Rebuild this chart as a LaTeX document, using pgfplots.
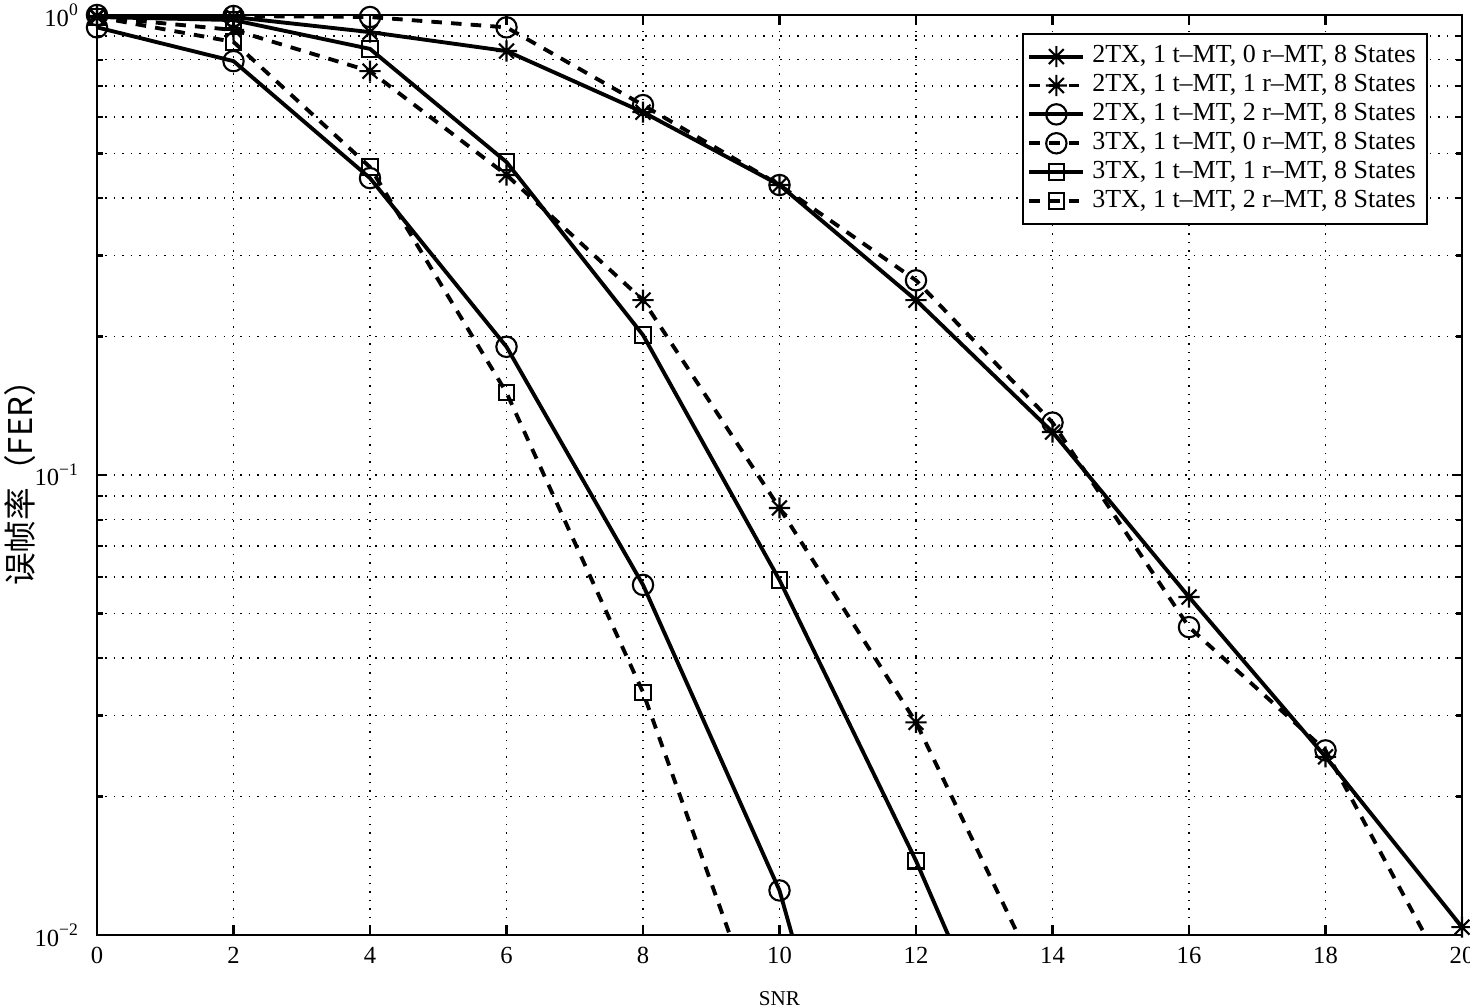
\documentclass[border=0pt]{standalone}
\usepackage{fontspec}
\setmainfont{Liberation Serif}
\newfontfamily\cjk{Noto Sans CJK SC}
\usepackage{pgfplots}
\pgfplotsset{compat=1.18}
\pgfdeclareplotmark{mstar}{%
  \pgfpathmoveto{\pgfqpoint{-\pgfplotmarksize}{0pt}}\pgfpathlineto{\pgfqpoint{\pgfplotmarksize}{0pt}}%
  \pgfpathmoveto{\pgfqpoint{0pt}{-\pgfplotmarksize}}\pgfpathlineto{\pgfqpoint{0pt}{\pgfplotmarksize}}%
  \pgfpathmoveto{\pgfqpoint{-0.707\pgfplotmarksize}{-0.707\pgfplotmarksize}}\pgfpathlineto{\pgfqpoint{0.707\pgfplotmarksize}{0.707\pgfplotmarksize}}%
  \pgfpathmoveto{\pgfqpoint{-0.707\pgfplotmarksize}{0.707\pgfplotmarksize}}\pgfpathlineto{\pgfqpoint{0.707\pgfplotmarksize}{-0.707\pgfplotmarksize}}%
  \pgfusepathqstroke}
\begin{document}
\begin{tikzpicture}
\begin{axis}[
  scale only axis, width=13.65cm, height=9.2cm,
  ymode=log, xmin=0, xmax=20, ymin=0.01, ymax=1,
  xtick={0,2,...,20},
  ytick={0.01,0.1,1},
  yticklabels={10\textsuperscript{−2},10\textsuperscript{−1},10\textsuperscript{0}},
  /pgf/number format/assume math mode=true,
  grid=both,
  major grid style={dotted, black, line width=0.5pt},
  minor grid style={dotted, black, line width=0.5pt},
  tick align=inside,
  major tick length=0.1cm, minor tick length=0.06cm,
  every tick/.style={black, line width=0.6pt},
  axis line style={black, line width=0.8pt},
  tick label style={font=\fontsize{7}{8}\selectfont},
  yticklabel style={xshift=-0.05cm},
  xlabel={SNR},
  xlabel style={font=\fontsize{6}{7}\selectfont, yshift=-0.03cm},
  ylabel={\cjk 误帧率（FER）},
  every axis y label/.style={at={(axis description cs:-0.0564,0.5)}, rotate=90, anchor=center,
    font=\fontsize{9.3}{10}\selectfont},
  every axis plot/.append style={black, line width=1.1pt},
  legend style={at={(1,1)}, anchor=north east, xshift=-0.34cm, yshift=-0.18cm,
    draw=black, line width=0.6pt, fill=white,
    font=\fontsize{7.4}{8}\selectfont, row sep=-2.2pt,
    inner sep=1.2pt},
  legend cell align=left,
  legend image code/.code={
    \draw[mark repeat=2,mark phase=2] plot coordinates {(0cm,0cm) (0.27cm,0cm) (0.54cm,0cm)};},
]
\addplot[solid, mark=mstar, mark size=3pt, mark options={solid, line width=0.6pt}]
  coordinates {(0,0.995) (2,0.99) (4,0.918) (6,0.835) (8,0.615) (10,0.427) (12,0.240) (14,0.124) (16,0.0543) (18,0.0244) (20,0.0104)};
\addlegendentry{2TX, 1 t–MT, 0 r–MT, 8 States}
\addplot[dash pattern=on 3pt off 2.6pt, mark=mstar, mark size=3pt, mark options={solid, line width=0.6pt}]
  coordinates {(0,0.99) (2,0.928) (4,0.755) (6,0.449) (8,0.240) (10,0.0848) (12,0.0290) (14,0.0070)};
\addlegendentry{2TX, 1 t–MT, 1 r–MT, 8 States}
\addplot[solid, mark=o, mark size=2.9pt, mark options={solid, line width=0.6pt}]
  coordinates {(0,0.94) (2,0.794) (4,0.442) (6,0.190) (8,0.0577) (10,0.0125) (12,0.0011)};
\addlegendentry{2TX, 1 t–MT, 2 r–MT, 8 States}
\addplot[dash pattern=on 3pt off 2.6pt, mark=o, mark size=2.9pt, mark options={solid, line width=0.6pt}]
  coordinates {(0,1.0) (2,0.995) (4,0.99) (6,0.94) (8,0.637) (10,0.427) (12,0.265) (14,0.130) (16,0.0467) (18,0.0252) (20,0.0071)};
\addlegendentry{3TX, 1 t–MT, 0 r–MT, 8 States}
\addplot[solid, mark=square, mark size=2.2pt, mark options={solid, line width=0.6pt}]
  coordinates {(0,0.99) (2,0.975) (4,0.844) (6,0.479) (8,0.2015) (10,0.0591) (12,0.0145) (14,0.003)};
\addlegendentry{3TX, 1 t–MT, 1 r–MT, 8 States}
\addplot[dash pattern=on 3pt off 2.6pt, mark=square, mark size=2.2pt, mark options={solid, line width=0.6pt}]
  coordinates {(0,0.99) (2,0.874) (4,0.467) (6,0.151) (8,0.0337) (10,0.005)};
\addlegendentry{3TX, 1 t–MT, 2 r–MT, 8 States}
\end{axis}
\pgfresetboundingbox
\path[use as bounding box] ([xshift=-0.97cm,yshift=-0.72cm]current axis.south west) rectangle ([xshift=0.08cm,yshift=0.15cm]current axis.north east);
\end{tikzpicture}
\end{document}
